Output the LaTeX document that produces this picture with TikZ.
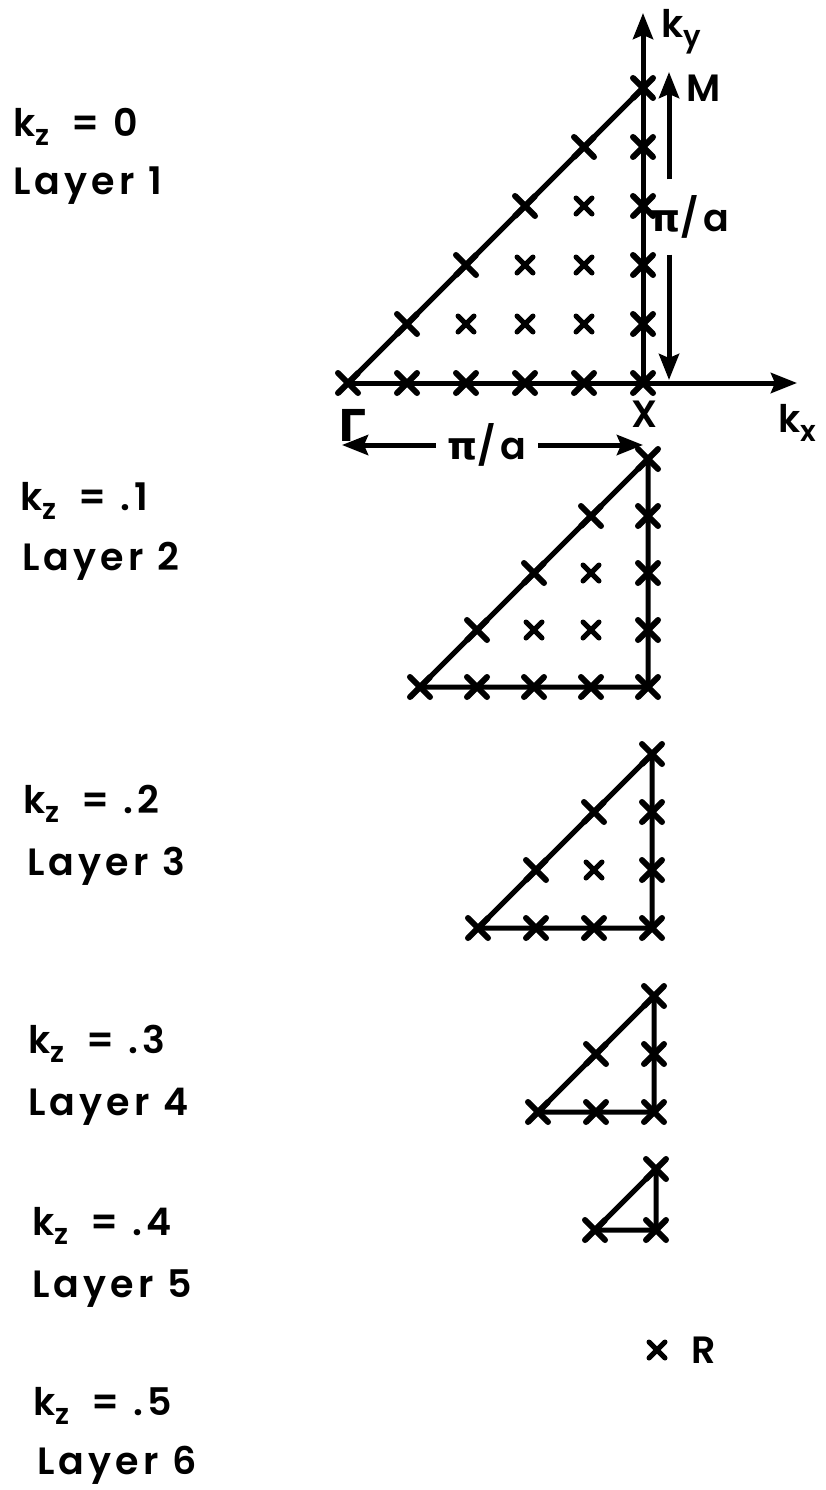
\documentclass[tikz,border=0pt]{standalone}
\usepackage{fontspec}
\setmainfont{Poppins SemiBold}[LetterSpace=11]
\newfontfamily\greekfont{DejaVu Sans}
\usetikzlibrary{arrows.meta, shapes.misc, positioning, calc}

\newcommand{\bigfont}{\fontsize{38}{44}\selectfont}
\newcommand{\ksub}[1]{k\raisebox{-9pt}{\fontsize{29}{30}\selectfont #1}}

\tikzset{
  xmark/.style={draw, cross out, line width=6pt, line cap=round, inner sep=0pt, minimum size=14pt},
  xsmall/.style={xmark, line width=5pt, minimum size=11pt},
  edge/.style={line width=5pt, line cap=round},
  arr/.style={line width=5pt, -{Stealth[length=26pt, width=20pt, inset=4pt]}},
  lbl/.style={font=\bigfont, inner sep=0pt, anchor=base west},
}

\begin{document}
\begin{tikzpicture}[x=1pt, y=-1pt]
    \useasboundingbox (0,0) rectangle (825,1490);

    % Lattice points, layers 1-5
    \foreach \n/\ox/\oy/\s in {1/348/383/59, 2/420/687/57, 3/478/928/58, 4/538/1112/58, 5/595/1230/61}{
        \pgfmathtruncatemacro{\m}{6-\n}
        \foreach \i in {0,...,\m}
            \foreach \j in {0,...,\i}{
                \pgfmathtruncatemacro{\onedge}{(\j==0 || \j==\i || \i==\m) ? 1 : 0}
                \ifnum\onedge=1
                    \node[xmark] (L\n-\i-\j) at (\ox+\s*\i, \oy-\s*\j) {};
                \else
                    \node[xsmall] (L\n-\i-\j) at (\ox+\s*\i, \oy-\s*\j) {};
                \fi
            }
    }

    % Axes of layer 1
    \coordinate (kxend) at (797,383);
    \coordinate (kyend) at (643,13);
    \draw[arr] (L1-0-0.center) -- (kxend);
    \draw[arr] (L1-5-0.center) -- (kyend);
    \draw[edge] (L1-0-0.center) -- (L1-5-5.center);

    % Triangles of layers 2-5
    \foreach \n/\m in {2/4, 3/3, 4/2, 5/1}
        \draw[edge] (L\n-0-0.center) -- (L\n-\m-0.center) -- (L\n-\m-\m.center) -- cycle;

    % Point labels
    \node[lbl] (ky) at (661,38) {\ksub{y}};
    \node[lbl] (M) at (686,102) {M};
    \node[lbl, anchor=base] (X) at (645,427) {X};
    \node[lbl] (kx) at (778,432) {\ksub{x}};
    \node[lbl] (Gamma) at (338,441) {\fontsize{44}{48}\selectfont\greekfont\bfseries Γ};

    % pi/a spans
    \node[font=\bigfont, inner xsep=12pt, inner ysep=0pt] (piax) at (487,445) {{\greekfont\bfseries π}/a};
    \coordinate (hleft) at (342,445);
    \coordinate (hright) at (643,445);
    \draw[arr] (piax.west) -- (hleft);
    \draw[arr] (piax.east) -- (hright);

    \node[font=\bigfont, inner xsep=0pt, inner ysep=16pt] (piay) at (690,217) {{\greekfont\bfseries π}/a};
    \coordinate (vtop) at (669,72);
    \coordinate (vbot) at (669,380);
    \draw[arr] (piay.north -| vtop) -- (vtop);
    \draw[arr] (piay.south -| vbot) -- (vbot);

    % R point
    \node[xsmall] (R) at (657,1350) {};
    \node[font=\bigfont, inner sep=0pt, right=26pt of R] (Rlbl) {R};

    % Layer labels
    \foreach \v/\x/\y/\lx/\ly [count=\c] in {0/13/137/13/195, .1/20/510/22/570, .2/23/813/27/875,
                                             .3/28/1053/28/1115, .4/32/1235/32/1297, .5/33/1415/37/1474}{
        \node[lbl] (kz\c) at (\x,\y) {\ksub{z}\hspace{22pt}=\hspace{14pt}\v};
        \node[lbl] (layer\c) at (\lx,\ly) {Layer \c};
    }
\end{tikzpicture}
\end{document}
